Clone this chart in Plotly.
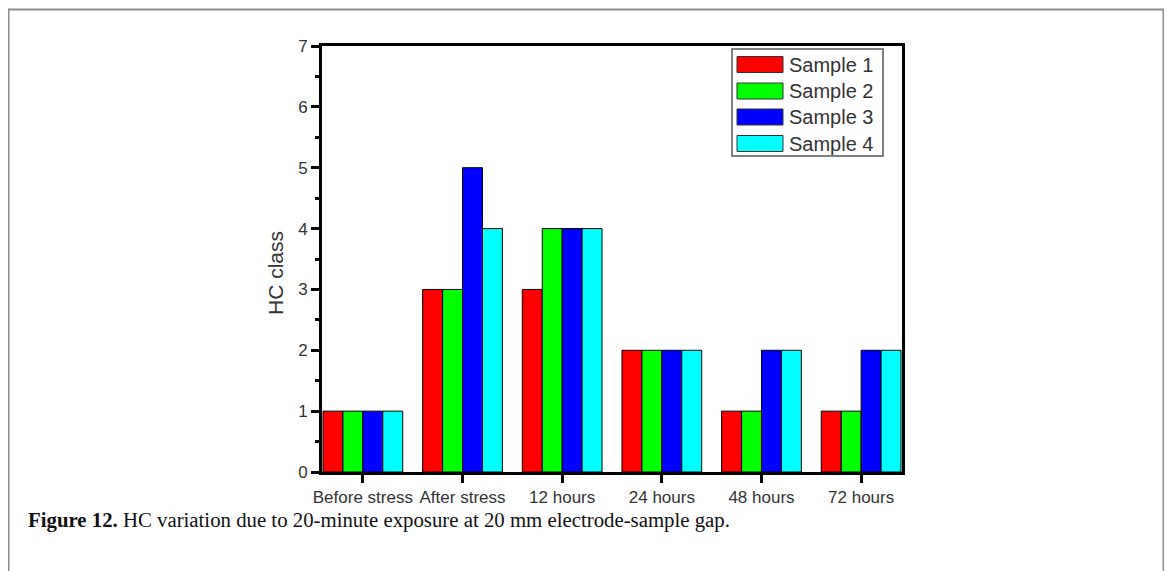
import plotly.graph_objects as go

categories = ["Before stress", "After stress", "12 hours", "24 hours", "48 hours", "72 hours"]
series_names = ["Sample 1", "Sample 2", "Sample 3", "Sample 4"]
sample1 = [1, 3, 3, 2, 1, 1]
sample2 = [1, 3, 4, 2, 1, 1]
sample3 = [1, 5, 4, 2, 2, 2]
sample4 = [1, 4, 4, 2, 2, 2]
series_values = [sample1, sample2, sample3, sample4]
colors = ["#FF0000", "#00FF00", "#0000FF", "#00FFFF"]
y_ticks = [0, 1, 2, 3, 4, 5, 6, 7]

W, H = 1172, 571
OFF = 8  # page body margin
L, R, T, B = 322, 902, 46, 472  # plot area in screen pixels

def px(x):
    return (x - L) / (R - L)

def py(y):
    return (B - y) / (B - T)

FONT = "Arial, Liberation Sans, sans-serif"

fig = go.Figure()
for name, vals, col in zip(series_names, series_values, colors):
    fig.add_trace(go.Bar(
        x=categories, y=vals, name=name,
        marker=dict(color=col, line=dict(color="#000000", width=1)),
        showlegend=False,
    ))

shapes = []
annotations = []

# manual legend (Origin style)
shapes.append(dict(type="rect", xref="paper", yref="paper",
                   x0=px(732), x1=px(883), y0=py(49), y1=py(156),
                   line=dict(color="#555555", width=1.5), fillcolor="white", layer="above"))
row_y = [64.5, 91, 117, 143.5]
for name, col, ry in zip(series_names, colors, row_y):
    shapes.append(dict(type="rect", xref="paper", yref="paper",
                       x0=px(737), x1=px(783), y0=py(ry - 8), y1=py(ry + 8),
                       line=dict(color="#333333", width=1), fillcolor=col, layer="above"))
    annotations.append(dict(xref="paper", yref="paper", x=px(787), y=py(ry),
                            xanchor="left", yanchor="middle", showarrow=False,
                            text=name, font=dict(family=FONT, size=20, color="#333333")))

# figure frame
shapes.append(dict(type="rect", xref="paper", yref="paper",
                   x0=px(8.5), x1=px(1163.5), y0=py(9.5), y1=py(600),
                   line=dict(color="#8c8c8c", width=2), layer="below"))

# y-axis title (placed as in the original, slightly below center)
annotations.append(dict(xref="paper", yref="paper", x=px(275), y=py(273),
                        xanchor="center", yanchor="middle", showarrow=False, textangle=-90,
                        text="HC class", font=dict(family=FONT, size=21, color="#333333")))

# caption
annotations.append(dict(xref="paper", yref="paper", x=px(26), y=py(520),
                        xanchor="left", yanchor="middle", showarrow=False,
                        text="<b>Figure 12.</b> HC variation due to 20-minute exposure at 20 mm electrode-sample gap.",
                        font=dict(family="Liberation Serif, Times New Roman, serif", size=20.8, color="#111111")))

fig.update_layout(
    width=W, height=H,
    margin=dict(l=L - OFF, r=W - R + OFF, t=T - OFF, b=H - B + OFF, pad=0),
    paper_bgcolor="white", plot_bgcolor="white",
    barmode="group", bargap=0.2, bargroupgap=0,
    shapes=shapes, annotations=annotations,
    font=dict(family=FONT, color="#333333"),
)
fig.update_xaxes(
    range=[-0.41, 5.41], showgrid=False, zeroline=False,
    showline=True, linecolor="black", linewidth=3, mirror=True,
    ticks="outside", ticklen=8, tickwidth=3, tickcolor="black",
    tickfont=dict(family=FONT, size=17, color="#333333"),
)
fig.update_yaxes(
    range=[0, 7], tickvals=y_ticks, showgrid=False, zeroline=False,
    showline=True, linecolor="black", linewidth=3, mirror=True,
    ticks="outside", ticklen=8, tickwidth=2.5, tickcolor="black",
    minor=dict(dtick=0.5, ticks="outside", ticklen=4, tickwidth=2.5, tickcolor="black"),
    tickfont=dict(family=FONT, size=17, color="#333333"),
)

fig.write_html("out.html")
